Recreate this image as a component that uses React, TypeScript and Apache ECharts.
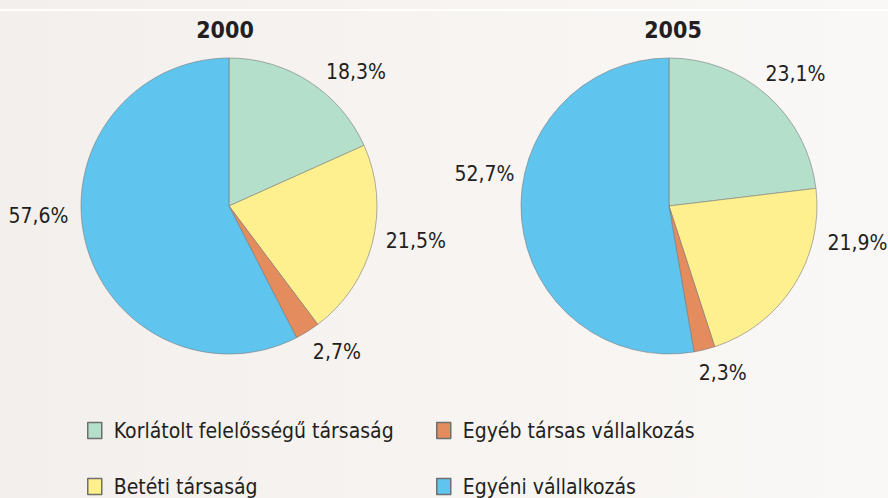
import React, { useEffect, useRef } from "react";
import * as echarts from "echarts";

const categories = [
  "Korlátolt felelősségű társaság",
  "Betéti társaság",
  "Egyéb társas vállalkozás",
  "Egyéni vállalkozás",
];
const years = ["2000", "2005"];
const values2000 = [18.3, 21.5, 2.7, 57.6];
const values2005 = [23.1, 21.9, 2.3, 52.7];
const colors = ["#b3dfcb", "#fff08f", "#e58c5e", "#5fc4ee"];

// label nudges (dx, dy) per series / slice, to mimic the hand-placed labels
const labelShift2000 = [[-2, 2], [-11, -5], [-13, 9], [8, -28]];
const labelShift2005 = [[-22, -11], [11, -50], [-20, 10], [18, -46]];

const FONT = "'DejaVu Sans Condensed', 'DejaVu Sans', sans-serif";

export default function App() {
  const ref = useRef<HTMLDivElement>(null);
  useEffect(() => {
    if (!ref.current) return;
    const chart = echarts.init(ref.current, undefined, { renderer: "svg" });
    const mkSeries = (vals: number[], cx: number, shifts: number[][]) => ({
      type: "pie",
      radius: 148,
      center: [cx, 206],
      startAngle: 90,
      clockwise: true,
      avoidLabelOverlap: false,
      itemStyle: { borderColor: "#7a7a7a", borderWidth: 0.6 },
      label: {
        show: true,
        position: "outside",
        color: "#231f20",
        fontFamily: FONT,
        fontSize: 21,
        formatter: (p: any) => p.value.toFixed(1).replace(".", ",") + "%",
      },
      labelLine: { show: false, length: 14, length2: 6 },
      labelLayout: (p: any) => ({ dx: shifts[p.dataIndex][0], dy: shifts[p.dataIndex][1] }),
      emphasis: { disabled: true },
      data: categories.map((c, i) => ({
        name: c,
        value: vals[i],
        itemStyle: { color: colors[i] },
      })),
    });
    const legendBase = {
      orient: "horizontal",
      icon: "rect",
      itemWidth: 14,
      itemHeight: 16,
      itemGap: 8,
      padding: 0,
      textStyle: { fontFamily: FONT, fontSize: 21, color: "#231f20", padding: [0, 0, 0, 7] },
      itemStyle: { borderColor: "#6f6f6f", borderWidth: 1.5 },
      selectedMode: false,
    };
    const titleStyle = { fontFamily: FONT, fontSize: 23, fontWeight: "bold", color: "#231f20" };
    chart.setOption({
      animation: false,
      backgroundColor: {
        type: "linear",
        x: 0, y: 0, x2: 1, y2: 0,
        colorStops: [
          { offset: 0, color: "#f3efec" },
          { offset: 1, color: "#faf8f6" },
        ],
      },
      title: [
        { text: years[0], left: 220, top: 13, textAlign: "center", textStyle: titleStyle },
        { text: years[1], left: 668, top: 13, textAlign: "center", textStyle: titleStyle },
      ],
      graphic: [
        {
          type: "line",
          shape: { x1: 0, y1: 10, x2: 888, y2: 10 },
          style: { stroke: "#ffffff", lineWidth: 2 },
        },
      ],
      legend: [
        { ...legendBase, left: 87, top: 420, data: [categories[0]] },
        { ...legendBase, left: 436, top: 420, data: [categories[2]] },
        { ...legendBase, left: 87, top: 476, data: [categories[1]] },
        { ...legendBase, left: 436, top: 476, data: [categories[3]] },
      ],
      series: [
        mkSeries(values2000, 229, labelShift2000),
        mkSeries(values2005, 669, labelShift2005),
      ],
    });
    return () => chart.dispose();
  }, []);
  return (
    <div
      ref={ref}
      style={{ position: "fixed", left: 0, top: 0, width: 888, height: 498 }}
    />
  );
}
